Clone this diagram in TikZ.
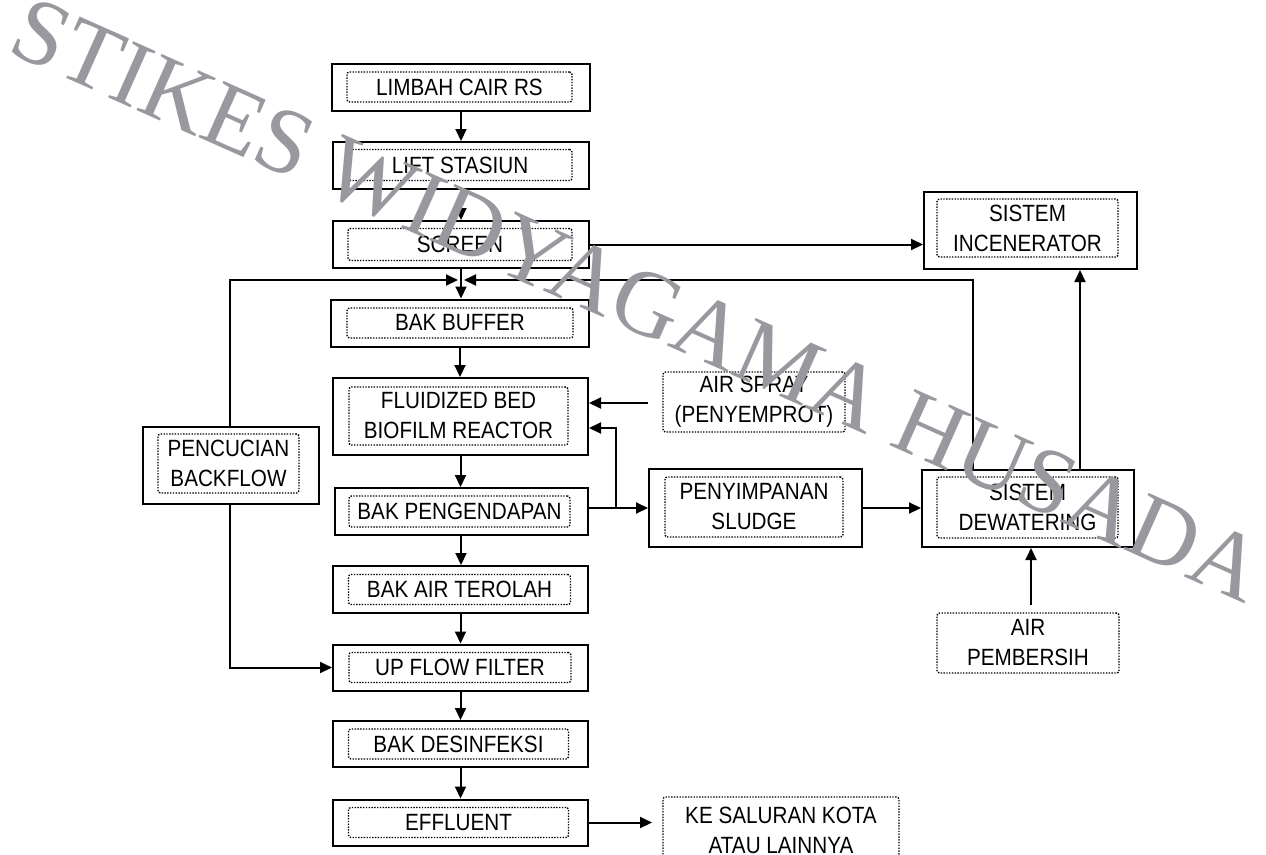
\documentclass[tikz,border=0pt]{standalone}
\usepackage{fontspec}
\newfontfamily\boxfont[FakeStretch=0.88]{Liberation Sans}
\newfontfamily\wmfont{Liberation Serif}
\usetikzlibrary{arrows.meta}
\definecolor{wmgray}{RGB}{152,153,158}
\begin{document}
\begin{tikzpicture}[x=1pt,y=-1pt,
  box/.style={draw, line width=2pt, inner sep=0pt},
  inbox/.style={draw, line width=1.4pt, dash pattern=on 1.4pt off 1.4pt, rounded corners=2.5pt,
     inner sep=0pt, align=center, font=\boxfont\fontsize{23.5}{30}\selectfont},
  conn/.style={line width=2pt, -{Triangle[length=12pt,width=11pt]}},
  wm/.style={text=wmgray, inner sep=0pt, font=\wmfont\fontsize{94}{94}\selectfont}]
\useasboundingbox (0,0) rectangle (1266,854);
% main column
\node[box, minimum width=258pt, minimum height=47pt] (lim) at (461,87) {};
\node[inbox, minimum width=225pt, minimum height=30pt] (limin) at (459.5,87) {LIMBAH CAIR RS};
\node[box, minimum width=256pt, minimum height=47pt] (lift) at (461,165.5) {};
\node[inbox, minimum width=224pt, minimum height=31pt] (liftin) at (460,165) {LIFT STASIUN};
\node[box, minimum width=256pt, minimum height=47pt] (scr) at (461,244.5) {};
\node[inbox, minimum width=224pt, minimum height=32pt] (scrin) at (460,244.5) {SCREEN};
\node[box, minimum width=258pt, minimum height=47pt] (buf) at (460,323) {};
\node[inbox, minimum width=226pt, minimum height=30pt] (bufin) at (460,323) {BAK BUFFER};
\node[box, minimum width=255pt, minimum height=77pt] (fbr) at (460.5,416.5) {};
\node[inbox, minimum width=219pt, minimum height=58pt] (fbrin) at (458.5,416) {FLUIDIZED BED\\BIOFILM REACTOR};
\node[box, minimum width=253pt, minimum height=47pt] (peng) at (461,511.5) {};
\node[inbox, minimum width=221pt, minimum height=31pt] (pengin) at (459.5,511.5) {BAK PENGENDAPAN};
\node[box, minimum width=255pt, minimum height=47pt] (ter) at (460.5,589.5) {};
\node[inbox, minimum width=222pt, minimum height=30pt] (terin) at (459.5,589.5) {BAK AIR TEROLAH};
\node[box, minimum width=255pt, minimum height=46pt] (upf) at (460.5,667.5) {};
\node[inbox, minimum width=222pt, minimum height=30pt] (upfin) at (460,667.5) {UP FLOW FILTER};
\node[box, minimum width=255pt, minimum height=46pt] (des) at (460.5,744) {};
\node[inbox, minimum width=220pt, minimum height=30pt] (desin) at (458.5,744) {BAK DESINFEKSI};
\node[box, minimum width=255pt, minimum height=46pt] (eff) at (460.5,822.5) {};
\node[inbox, minimum width=220pt, minimum height=30pt] (effin) at (458.5,822.5) {EFFLUENT};
% left
\node[box, minimum width=176pt, minimum height=77pt] (pen) at (231,465.5) {};
\node[inbox, minimum width=141pt, minimum height=59pt] (penin) at (228.5,463.5) {PENCUCIAN\\BACKFLOW};
% right
\node[box, minimum width=213pt, minimum height=77pt] (inc) at (1030.5,230.5) {};
\node[inbox, minimum width=181pt, minimum height=58pt] (incin) at (1027.5,228) {SISTEM\\INCENERATOR};
\node[inbox, minimum width=182pt, minimum height=60pt] (asp) at (754,402) {AIR SPRAY\\(PENYEMPROT)};
\node[box, minimum width=213pt, minimum height=78pt] (pny) at (755.5,508) {};
\node[inbox, minimum width=178pt, minimum height=60pt] (pnyin) at (754,507) {PENYIMPANAN\\SLUDGE};
\node[box, minimum width=212pt, minimum height=77pt] (dew) at (1028,508.5) {};
\node[inbox, minimum width=181pt, minimum height=61pt] (dewin) at (1027.5,507.5) {SISTEM\\DEWATERING};
\node[inbox, minimum width=182pt, minimum height=60pt] (airp) at (1028,643) {AIR\\PEMBERSIH};
\node[inbox, minimum width=236pt, minimum height=66pt] (ke) at (781,830) {KE SALURAN KOTA\\ATAU LAINNYA};
% coordinates
\coordinate (jL) at (230,280);
\coordinate (jR) at (973,280);
\coordinate (tipL) at (458,280);
\coordinate (tipR) at (464,280);
\coordinate (aspS) at (648,403);
\coordinate (jP) at (616,508);
\coordinate (jP2) at (616,428);
\coordinate (xI) at (1080,0);
\coordinate (airS) at (1031,605);
\coordinate (keT) at (652,822.5);
% connectors
\draw[conn] (lim.south) -- (lim.south |- lift.north);
\draw[conn] (lift.south) -- (lift.south |- scr.north);
\draw[conn] (scr.south) -- (scr.south |- buf.north);
\draw[conn] (pen.north -| jL) -- (jL) -- (tipL);
\draw[conn] (dew.north -| jR) -- (jR) -- (tipR);
\draw[conn] (buf.south) -- (buf.south |- fbr.north);
\draw[conn] (fbr.south) -- (fbr.south |- peng.north);
\draw[conn] (peng.south) -- (peng.south |- ter.north);
\draw[conn] (ter.south) -- (ter.south |- upf.north);
\draw[conn] (upf.south) -- (upf.south |- des.north);
\draw[conn] (des.south) -- (des.south |- eff.north);
\draw[conn] (pen.south -| jL) -- (jL |- upf.west) -- (upf.west);
\draw[conn] (scr.east) -- (scr.east -| inc.west);
\draw[conn] (aspS) -- (aspS -| fbr.east);
\draw[conn] (peng.east |- jP) -- (jP -| pny.west);
\draw[conn] (jP) -- (jP2) -- (jP2 -| fbr.east);
\draw[conn] (pny.east) -- (pny.east -| dew.west);
\draw[conn] (dew.north -| xI) -- (inc.south -| xI);
\draw[conn] (airS) -- (airS |- dew.south);
\draw[conn] (eff.east) -- (keT);
% watermark
\node[wm, rotate=-24] (wmark) at (638,300) {STIKES WIDYAGAMA HUSADA};
\end{tikzpicture}
\end{document}
